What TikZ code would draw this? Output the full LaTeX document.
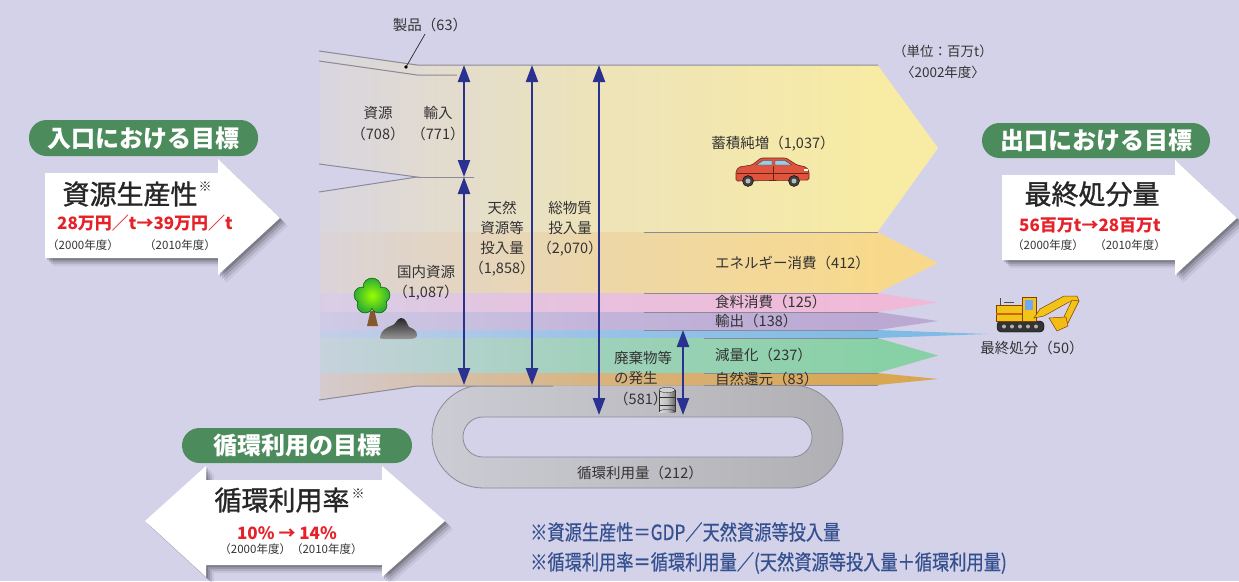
\documentclass[tikz,border=0pt]{standalone}
\usepackage{graphicx}
\usepackage{fontspec}
\setmainfont{Noto Sans CJK JP}
\newfontfamily\jpmed[FakeBold=1.2]{Noto Sans CJK JP}
\newfontfamily\jpsemi[FakeBold=0.6]{Noto Sans CJK JP}
\usetikzlibrary{arrows.meta,shadows}

\definecolor{bg}{HTML}{D4D2E9}
\definecolor{cY}{HTML}{F8EBA4}
\definecolor{cO}{HTML}{F8D98C}
\definecolor{cP}{HTML}{F1B9D8}
\definecolor{cV}{HTML}{BBA8D3}
\definecolor{cB}{HTML}{7FBBE6}
\definecolor{cG}{HTML}{88D1A6}
\definecolor{cBr}{HTML}{D9A651}
\definecolor{edge}{HTML}{8A8A98}
\definecolor{flowblue}{HTML}{2B3190}
\definecolor{pillgreen}{HTML}{4C8B5C}
\definecolor{goalred}{HTML}{E6212A}
\definecolor{txt}{HTML}{333333}
\definecolor{noteblue}{HTML}{35508F}
\definecolor{loopL}{HTML}{CCCCD4}
\definecolor{loopR}{HTML}{B0B0B4}
\definecolor{carred}{HTML}{E0533C}
\definecolor{winblue}{HTML}{8FD0F0}
\definecolor{digyellow}{HTML}{F2C41A}

\newcommand\lblfont{\fontsize{14.5}{20.5}\selectfont}

\begin{document}
\begin{tikzpicture}[x=1pt,y=-1pt,
  lbl/.style={font=\lblfont, text=txt, inner sep=0pt},
  flow/.style={draw=flowblue, line width=2.3pt,
    {Triangle[length=17pt,width=12pt]}-{Triangle[length=17pt,width=12pt]}},
  bandline/.style={draw=edge, line width=1pt},
  pill/.style={fill=pillgreen, rounded corners=17.5pt},
  pilltext/.style={font=\fontsize{24}{24}\selectfont\bfseries, text=white, inner sep=0pt},
  goalbox/.style={fill=white,
    drop shadow={shadow xshift=2pt,shadow yshift=-2pt,opacity=.18,fill=black},
    drop shadow={shadow xshift=4pt,shadow yshift=-4pt,opacity=.14,fill=black},
    drop shadow={shadow xshift=6pt,shadow yshift=-6pt,opacity=.10,fill=black},
    drop shadow={shadow xshift=8pt,shadow yshift=-8pt,opacity=.06,fill=black}},
  goaltitle/.style={font=\jpmed\fontsize{27}{27}\selectfont, text=black!85, inner sep=0pt},
  goalnum/.style={font=\fontsize{17}{17}\selectfont\bfseries, text=goalred, inner sep=0pt},
  goalyear/.style={font=\fontsize{11.5}{11.5}\selectfont, text=txt, inner sep=0pt},
  note/.style={font=\jpsemi\fontsize{21}{21}\selectfont, text=noteblue, inner sep=0pt, anchor=west}]

\useasboundingbox (0,0) rectangle (1239,581);
\fill[bg] (0,0) rectangle (1239,581);

% ---- recycling loop ----
\shade[even odd rule, left color=loopL, right color=loopR]
  {[rounded corners=51.4pt] (432,385) rectangle (843,488)}
  {[rounded corners=19.9pt] (463,417) rectangle (812,457)};
\draw[edge, line width=0.8pt, rounded corners=51.4pt] (432,385) rectangle (843,488);
\draw[edge, line width=0.8pt, rounded corners=19.9pt, fill=bg] (463,417) rectangle (812,457);

% ---- material flow bands ----
\begin{scope}
  \clip (320,52) -- (417,65) -- (878,65) -- (878,385) -- (417,386) -- (320,400) -- cycle;
  \shade[left color=cY!14!bg, right color=cY, middle color=cY!70!bg] (320,40) rectangle (878,232);
  \shade[left color=cO!18!bg, right color=cO, middle color=cO!70!bg] (320,232) rectangle (878,293);
  \shade[left color=cP!18!bg, right color=cP, middle color=cP!70!bg] (320,293) rectangle (878,312);
  \shade[left color=cV!18!bg, right color=cV, middle color=cV!70!bg] (320,312) rectangle (878,330);
  \shade[left color=cB!18!bg, right color=cB, middle color=cB!70!bg] (320,330) rectangle (878,338);
  \shade[left color=cG!18!bg, right color=cG, middle color=cG!70!bg] (320,338) rectangle (878,373);
  \shade[left color=cBr!18!bg, right color=cBr, middle color=cBr!70!bg] (320,373) rectangle (878,402);
\end{scope}
% gap between the import and domestic inlets
\fill[bg] (319,164) -- (417,177) -- (319,192) -- cycle;

% band tips
\fill[cY] (877.5,65) -- (938,148) -- (877.5,232) -- cycle;
\fill[cO] (877.5,232) -- (938,263) -- (877.5,293) -- cycle;
\fill[cP] (877.5,293) -- (938,302.5) -- (877.5,312) -- cycle;
\fill[cV] (877.5,312) -- (938,321) -- (877.5,330) -- cycle;
\fill[cB] (877.5,330) -- (988,334) -- (877.5,338) -- cycle;
\fill[cG] (877.5,338) -- (938,355.5) -- (877.5,373) -- cycle;
\fill[cBr] (877.5,373) -- (938,379) -- (877.5,385) -- cycle;

% band edges
\draw[bandline] (319,51) -- (417,65) -- (878,65);
\draw[bandline] (319,61) -- (417,75) -- (457,75);
\draw[bandline] (319,164) -- (417,177) -- (319,192);
\draw[bandline] (417,177) -- (474,177);
\draw[bandline] (644,232) -- (878,232);
\draw[bandline] (644,293) -- (878,293);
\draw[bandline] (644,312) -- (878,312);
\draw[bandline] (644,330) -- (878,330);
\draw[bandline] (704,338) -- (878,338);
\draw[bandline] (704,373) -- (878,373);
\draw[bandline] (704,385) -- (878,385);
\draw[bandline] (319,400) -- (417,386) -- (553,386);

% ---- measuring arrows ----
\coordinate (impTop) at (464,65);
\coordinate (impBot) at (464,177);
\coordinate (domBot) at (464,385);
\coordinate (natTop) at (532,65);
\coordinate (natBot) at (532,385);
\coordinate (totTop) at (599,65);
\coordinate (totBot) at (599,415);
\coordinate (wasteTop) at (683,330);
\coordinate (wasteBot) at (683,415);
\draw[flow] (impTop) -- (impBot);
\draw[flow] (impBot) -- (domBot);
\draw[flow] (natTop) -- (natBot);
\draw[flow] (totTop) -- (totBot);
\draw[flow] (wasteTop) -- (wasteBot);

% ---- product leader ----
\node[lbl] (prod) at (430,25) {製品（63）};
\coordinate (prodDot) at (406,67);
\draw[black!85, line width=0.7pt] (prod.south) ++(-5,2) -- (prodDot);
\fill[black] (prodDot) circle[radius=1.8pt];

% ---- flow labels ----
\node[lbl, align=center] (res) at (378,123.5) {資源\\（708）};
\node[lbl, align=center] (imp) at (438,123.5) {輸入\\（771）};
\node[lbl, align=center] (dom) at (426,283) {国内資源\\（1,087）};
\node[lbl, align=center, font=\fontsize{14.5}{20}\selectfont] (nat) at (502,239) {天然\\資源等\\投入量\\（1,858）};
\node[lbl, align=center, font=\fontsize{14.5}{20}\selectfont] (tot) at (570,229) {総物質\\投入量\\（2,070）};
\node[lbl] (stock) at (773,144) {蓄積純増（1,037）};
\node[lbl, anchor=west] (energy) at (715,263) {エネルギー消費（412）};
\node[lbl, anchor=west] (food) at (715,302) {食料消費（125）};
\node[lbl, anchor=west] (export) at (715,320.5) {輸出（138）};
\node[lbl, anchor=west] (reduce) at (715,355) {減量化（237）};
\node[lbl, anchor=west] (natret) at (715,379) {自然還元（83）};
\node[lbl, anchor=north west, align=left] (waste) at (614,351) {廃棄物等\\の発生\\（581）};
\node[lbl] (cyc) at (640,473) {循環利用量（212）};
\node[lbl, align=center, font=\fontsize{13.5}{21}\selectfont] (unit) at (943,61.5) {（単位：百万t）\\〈2002年度〉};
\node[lbl] (final) at (1032,348) {最終処分（50）};

% ---- icons ----
% tree
\fill[brown!70!black] (370.5,311) -- (374.5,311) -- (378,326) -- (367,326) -- cycle;
\shade[inner color=green!60!yellow!90!white, outer color=green!55!black!90, draw=green!35!black]
  (372,287) circle[radius=9pt] (362,295) circle[radius=8pt] (382,295) circle[radius=8pt]
  (365,305) circle[radius=8pt] (379,305) circle[radius=8pt] (372,298) circle[radius=10pt];
\shade[inner color=green!40!yellow, outer color=green!60!black!80]
  (372,287) circle[radius=8.3pt] (362,295) circle[radius=7.3pt] (382,295) circle[radius=7.3pt]
  (365,305) circle[radius=7.3pt] (379,305) circle[radius=7.3pt] (372,298) circle[radius=9.3pt];
% rock
\shade[top color=black!85, bottom color=black!40]
  (380,337) to[out=80,in=200] (393,325) to[out=30,in=190] (401,318)
  to[out=0,in=120] (409,327) to[out=-20,in=90] (417,335) to[out=-90,in=0] (410,339)
  -- (386,339) to[out=180,in=-100] cycle;

% car
\filldraw[fill=carred, draw=carred!45!black, line width=0.6pt, rounded corners=1.5pt]
  (736,171) -- (739,167) -- (752,165) -- (761,158) -- (786,158) -- (797,165)
  -- (806,167) -- (809,171) -- (809,180) -- (736,181) -- cycle;
\filldraw[fill=winblue, draw=carred!45!black, line width=0.4pt]
  (756,165) -- (763,160.5) -- (772,160.5) -- (772,165) -- cycle
  (775,165) -- (775,160.5) -- (785,160.5) -- (792,165) -- cycle;
\draw[carred!45!black, line width=0.4pt] (773.5,166) -- (773.5,180) (737,173) -- (808,173);
\fill[white] (804,168.5) rectangle (808,171);
\foreach \wx in {748,794} {
  \filldraw[fill=black!75, draw=black] (\wx,181) circle[radius=5.5pt];
  \fill[gray!55] (\wx,181) circle[radius=2.5pt];
}

% excavator
\filldraw[fill=black!80, rounded corners=4pt] (997,321) rectangle (1044,332);
\foreach \tx in {1003,1011,1019,1027,1035} \fill[gray!60] (\tx+1,326.5) circle[radius=2pt];
\filldraw[fill=digyellow, draw=orange!50!black, line width=0.5pt] (996,305) rectangle (1023,321);
\fill[orange!80!black] (996,313) rectangle (1023,315);
\filldraw[fill=digyellow, draw=orange!50!black, line width=0.5pt] (1022,297) rectangle (1036,321);
\fill[winblue!80!blue] (1025,300) rectangle (1033,310);
\draw[black!70, line width=0.8pt] (1000,305) -- (1000,298) (1004,302) -- (1014,302);
\filldraw[fill=digyellow, draw=orange!50!black, line width=0.5pt]
  (1034,318) -- (1040,309) -- (1064,296) -- (1077,296) -- (1079,301) -- (1069,302) -- (1044,316) -- cycle;
\filldraw[fill=digyellow, draw=orange!50!black, line width=0.5pt]
  (1072,300) -- (1079,301) -- (1068,323) -- (1062,321) -- cycle;
\filldraw[fill=digyellow!85!orange, draw=orange!50!black, line width=0.5pt]
  (1049,318) -- (1066,317) -- (1068,326) -- (1057,331) -- cycle;

% drum
\shade[left color=gray!30, right color=gray!80!black, middle color=gray!50]
  (659,390) rectangle (675,412);
\draw[gray!40!black, line width=0.4pt] (659,390) -- (659,412) (675,390) -- (675,412)
  (659,397.5) -- (675,397.5) (659,405) -- (675,405);
\filldraw[fill=gray!35, draw=gray!40!black, line width=0.4pt] (667,390) ellipse[x radius=8pt, y radius=2.6pt];
\draw[gray!40!black, line width=0.4pt] (659,412) arc[start angle=180, end angle=360, x radius=8pt, y radius=-2.6pt];

% ---- inlet goal ----
\path[goalbox] (45,173) -- (218,173) -- (218,159) -- (280,218) -- (218,275) -- (218,258) -- (45,258) -- cycle;
\fill[pill] (29,120) rectangle (258,156);
\node[pilltext] (inTag) at (143.5,138) {入口における目標};
\node[goaltitle] (inTitle) at (130,194) {資源生産性};
\node[inner sep=0pt, font=\fontsize{13}{13}\selectfont, text=black!85] at (205,187) {※};
\node[goalnum] (inNum) at (145,223) {28万円／t→39万円／t};
\node[goalyear] at (83,245) {（2000年度）};
\node[goalyear] at (180,245) {（2010年度）};

% ---- outlet goal ----
\path[goalbox] (1002,175) -- (1175,175) -- (1175,160) -- (1237,218) -- (1175,275) -- (1175,260) -- (1002,260) -- cycle;
\fill[pill] (982,123) rectangle (1210,158);
\node[pilltext] (outTag) at (1096,140.5) {出口における目標};
\node[goaltitle] (outTitle) at (1092,194) {最終処分量};
\node[goalnum] (outNum) at (1090,225) {56百万t→28百万t};
\node[goalyear] at (1048,245) {（2000年度）};
\node[goalyear] at (1130,245) {（2010年度）};

% ---- recycling goal ----
\path[goalbox] (206,480) -- (382,480) -- (382,466) -- (445,521) -- (382,577) -- (382,565)
  -- (206,565) -- (206,577) -- (145,521) -- (206,466) -- cycle;
\fill[pill] (182,428) rectangle (412,463);
\node[pilltext] (cycTag) at (297,445.5) {循環利用の目標};
\node[goaltitle] (cycTitle) at (282,500) {循環利用率};
\node[inner sep=0pt, font=\fontsize{13}{13}\selectfont, text=black!85] at (358,494) {※};
\node[goalnum] (cycNum) at (287,533) {10\% → 14\%};
\node[goalyear] at (291,549) {（2000年度）（2010年度）};

% ---- footnotes ----
\node[note] (note1) at (530,532) {\scalebox{0.82}[1]{※資源生産性＝GDP／天然資源等投入量}};
\node[note] (note2) at (530,563) {\scalebox{0.82}[1]{※循環利用率＝循環利用量／(天然資源等投入量＋循環利用量)}};

\end{tikzpicture}
\end{document}
